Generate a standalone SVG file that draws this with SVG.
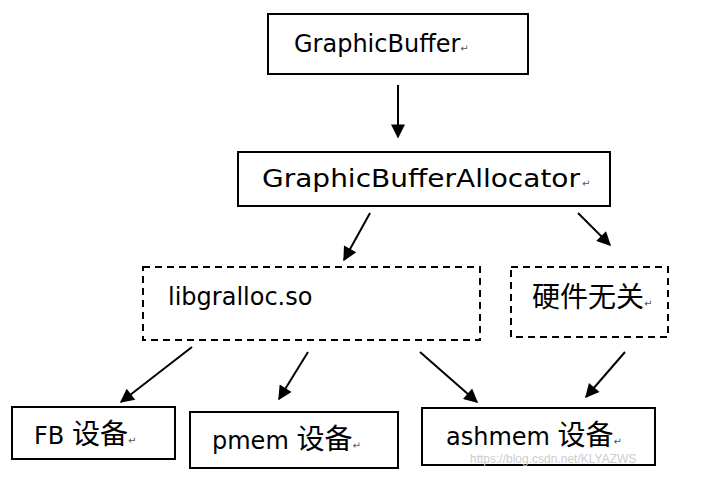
<svg xmlns="http://www.w3.org/2000/svg" width="706" height="478" viewBox="0 0 706 478">
<defs>
<marker id="ah" viewBox="0 0 10 10" refX="9" refY="5" markerWidth="16" markerHeight="14" orient="auto" markerUnits="userSpaceOnUse">
<path d="M0,0 L10,5 L0,10 z" fill="#000"/>
</marker>
</defs>
<style>
.box{fill:#fff;stroke:#000;stroke-width:2}
.dash{fill:#fff;stroke:#000;stroke-width:2;stroke-dasharray:7,5}
.t{font-family:"DejaVu Sans","Noto Sans CJK SC",sans-serif;font-size:24px;fill:#000}
.cj{font-size:28px}
.r{font-size:10px;fill:#555}
.c line{stroke:#000;stroke-width:2;marker-end:url(#ah)}
</style>
<rect width="706" height="478" fill="#fff"/>
<g id="graphicbuffer"><rect class="box" x="268" y="14" width="260" height="60"/><text class="t" x="294" y="52">GraphicBuffer<tspan class="r">↵</tspan></text></g>
<g id="allocator"><rect class="box" x="238" y="152" width="372" height="54"/><text class="t" x="262" y="187" textLength="318" lengthAdjust="spacingAndGlyphs">GraphicBufferAllocator</text><text class="t r" x="582" y="187">↵</text></g>
<g id="libgralloc"><rect class="dash" x="143" y="267" width="337" height="73"/><text class="t" x="168" y="305">libgralloc.so</text></g>
<g id="hw"><rect class="dash" x="511" y="267" width="157" height="70"/><text class="t" x="532" y="307"><tspan class="cj">硬件无关</tspan><tspan class="r">↵</tspan></text></g>
<g id="fb"><rect class="box" x="12" y="407" width="163" height="52"/><text class="t" x="34" y="444">FB <tspan class="cj">设备</tspan><tspan class="r">↵</tspan></text></g>
<g id="pmem"><rect class="box" x="190" y="412" width="208" height="56"/><text class="t" x="212" y="449">pmem <tspan class="cj">设备</tspan><tspan class="r">↵</tspan></text></g>
<g id="ashmem"><rect class="box" x="422" y="408" width="233" height="57"/><text class="t" x="446" y="445">ashmem <tspan class="cj">设备</tspan><tspan class="r">↵</tspan></text></g>
<g class="c">
<line x1="398" y1="85" x2="398" y2="137"/>
<line x1="370" y1="213" x2="344" y2="260"/>
<line x1="578" y1="213" x2="610" y2="245"/>
<line x1="192" y1="347" x2="121" y2="402"/>
<line x1="308" y1="352" x2="279" y2="399"/>
<line x1="420" y1="352" x2="477" y2="402"/>
<line x1="625" y1="352" x2="586" y2="397"/>
</g>
<text x="470" y="463" font-family="Liberation Sans,sans-serif" font-size="12" fill="#ccc">https://blog.csdn.net/KLYAZWS</text>
</svg>
